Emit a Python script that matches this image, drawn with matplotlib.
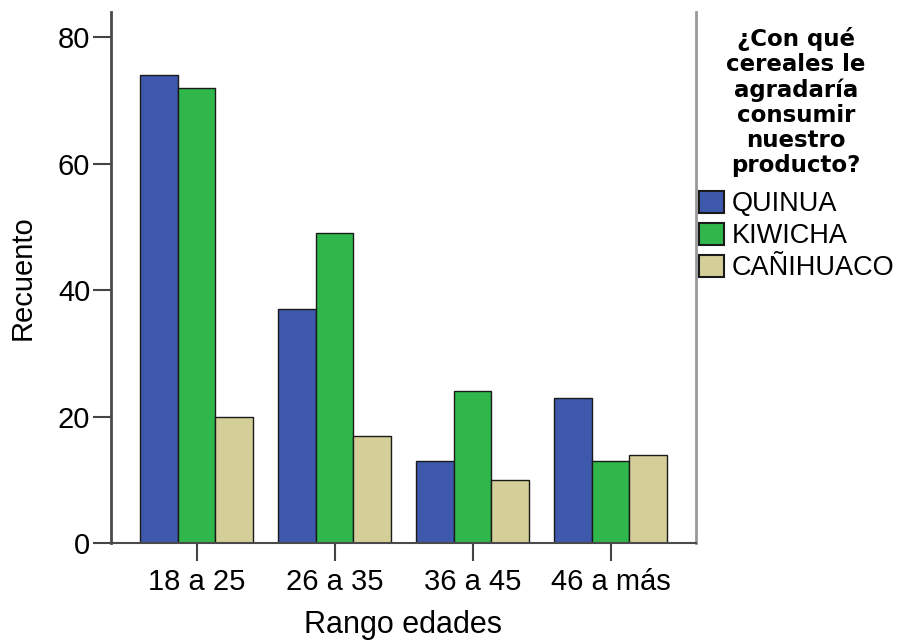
import matplotlib.pyplot as plt
import numpy as np

age_ranges = ["18 a 25", "26 a 35", "36 a 45", "46 a más"]
cereals = ["QUINUA", "KIWICHA", "CAÑIHUACO"]
quinua = [74, 37, 13, 23]
kiwicha = [72, 49, 24, 13]
canihuaco = [20, 17, 10, 14]
colors = ["#3e58ab", "#2fb74b", "#d4cf98"]
legend_title = "¿Con qué\ncereales le\nagradaría\nconsumir\nnuestro\nproducto?"

plt.rcParams["font.family"] = ["Liberation Sans", "DejaVu Sans"]

W, H = 898, 641
fig = plt.figure(figsize=(W / 100, H / 100), dpi=100)
ax = fig.add_axes([111 / W, 1 - 543 / H, (696 - 111) / W, (543 - 12) / H])

x = np.arange(len(age_ranges))
width = 0.272
for i, (name, values) in enumerate(zip(cereals, [quinua, kiwicha, canihuaco])):
    ax.bar(x + (i - 1) * width, values, width, color=colors[i],
           edgecolor="#1a1a1a", linewidth=1.0, label=name)

ax.set_xlim(-0.621, 3.618)
ax.set_ylim(0, 84)
ax.set_xticks(x)
ax.set_xticklabels(age_ranges, fontsize=21)
ax.set_yticks([0, 20, 40, 60, 80])
ax.tick_params(axis="y", labelsize=21, length=13, width=1.5, color="#444444", pad=2)
ax.tick_params(axis="x", length=13, width=1.5, color="#444444", pad=5)

ax.spines["top"].set_visible(False)
ax.spines["left"].set_color("#4a4a4a")
ax.spines["left"].set_linewidth(2)
ax.spines["bottom"].set_color("#4a4a4a")
ax.spines["bottom"].set_linewidth(1.5)
ax.spines["right"].set_color("#999999")
ax.spines["right"].set_linewidth(2)

ax.set_xlabel("Rango edades", fontsize=22, labelpad=10)
ax.set_ylabel("Recuento", fontsize=21, labelpad=15)

# legend title drawn separately so it can sit centred above the entries
fig.text(796 / W, 1 - 27 / H, legend_title, ha="center", va="top",
         multialignment="center", family="DejaVu Sans", weight="bold",
         size=16.5, linespacing=1.12)

leg = fig.legend(loc="upper left", bbox_to_anchor=(699 / W, 1 - 191 / H),
                 frameon=False, fontsize=19.5, borderpad=0, borderaxespad=0,
                 handlelength=0.92, handleheight=0.87, handletextpad=0.28,
                 labelspacing=0.21)
for patch in leg.get_patches():
    patch.set_edgecolor("#1a1a1a")
    patch.set_linewidth(1.5)

fig.savefig("out.png", dpi=100)
